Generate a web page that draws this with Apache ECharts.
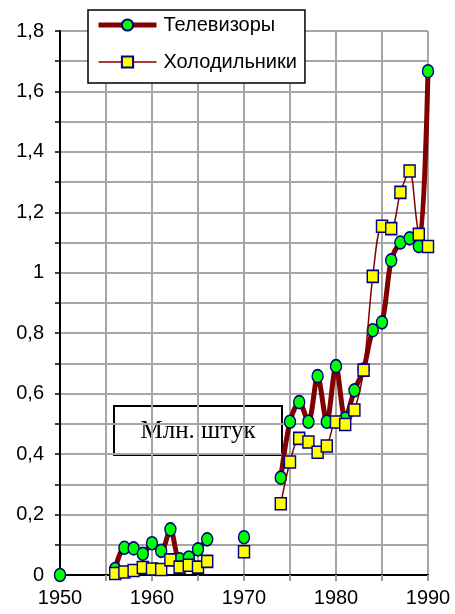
<!DOCTYPE html>
<html>
<head>
<meta charset="utf-8">
<script src="https://cdn.jsdelivr.net/npm/echarts@6/dist/echarts.min.js"></script>
<style>
  html, body { margin: 0; padding: 0; background: #fff; }
  #chart { width: 455px; height: 614px; }
</style>
</head>
<body>
<div id="chart"></div>
<script>
// годы и значения (млн. штук), null = нет данных
let years = [1950, 1956, 1957, 1958, 1959, 1960, 1961, 1962, 1963, 1964, 1965, 1966, 1970,
  1974, 1975, 1976, 1977, 1978, 1979, 1980, 1981, 1982, 1983, 1984, 1985, 1986, 1987, 1988, 1989, 1990];
let tv = [0, 0.02, 0.09, 0.088, 0.07, 0.105, 0.08, 0.151, 0.052, 0.058, 0.085, 0.118, 0.125,
  0.322, 0.507, 0.572, 0.507, 0.658, 0.507, 0.691, 0.518, 0.611, 0.68, 0.81, 0.836, 1.041, 1.1, 1.114, 1.088, 1.667];
let fridge = [null, 0.005, 0.01, 0.015, 0.025, 0.02, 0.018, 0.05, 0.026, 0.032, 0.026, 0.045, 0.077,
  0.236, 0.374, 0.452, 0.44, 0.406, 0.427, 0.506, 0.498, 0.546, 0.678, 0.988, 1.154, 1.146, 1.266, 1.337, 1.127, 1.087];
let seriesNames = ['Телевизоры', 'Холодильники'];

// разрыв линии там, где годы идут не подряд
function toPoints(vals) {
  let out = [];
  let prev = null;
  years.forEach((y, i) => {
    if (vals[i] == null) return;
    if (prev !== null && y - prev > 1) out.push([prev + 0.5, '-']);
    out.push([y, vals[i]]);
    prev = y;
  });
  return out;
}

let font = 'Liberation Sans, Arial';
let myChart = echarts.init(document.getElementById('chart'));
let option = {
  animation: false,
  grid: { left: 60, right: 27, top: 31, bottom: 39 },
  legend: {
    orient: 'vertical',
    left: 88,
    top: 10,
    padding: [5, 8, 11, 8],
    itemGap: 17,
    itemWidth: 58,
    itemHeight: 14,
    backgroundColor: '#fff',
    borderColor: '#000',
    borderWidth: 1.5,
    borderRadius: 0,
    textStyle: { fontFamily: font, fontSize: 20, color: '#000', padding: [0, 0, 0, 2] },
    data: [
      { name: seriesNames[0], lineStyle: { width: 5, color: '#800000' } },
      { name: seriesNames[1], lineStyle: { width: 1.5, color: '#800000' } }
    ]
  },
  xAxis: {
    type: 'value',
    min: 1950,
    max: 1990,
    interval: 5,
    axisLine: { lineStyle: { color: '#000', width: 2 } },
    axisTick: { show: true, length: 6, lineStyle: { color: '#999', width: 2 } },
    splitLine: { lineStyle: { color: '#a6a6a6', width: 2 } },
    axisLabel: {
      fontFamily: font,
      fontSize: 20,
      color: '#000',
      margin: 13,
      formatter: v => (v % 10 === 0 ? String(v) : '')
    }
  },
  yAxis: {
    type: 'value',
    min: 0,
    max: 1.8,
    interval: 0.1,
    axisLine: { show: true, lineStyle: { color: '#000', width: 2 } },
    axisTick: { show: true, length: 5, lineStyle: { color: '#000', width: 1.5 } },
    splitLine: { lineStyle: { color: '#a6a6a6', width: 2 } },
    axisLabel: {
      fontFamily: font,
      fontSize: 20,
      color: '#000',
      margin: 16,
      formatter: v => {
        let k = Math.round(v * 10);
        if (k % 2 !== 0) return '';
        return String(+(k / 10).toFixed(1)).replace('.', ',');
      }
    }
  },
  graphic: [
    {
      type: 'group',
      left: 113,
      top: 405,
      children: [
        {
          type: 'rect',
          shape: { x: 0, y: 0, width: 168, height: 49 },
          style: { fill: '#fff', stroke: '#000', lineWidth: 2 }
        },
        {
          type: 'text',
          x: 84,
          y: 25,
          style: {
            text: 'Млн. штук',
            fontFamily: 'Liberation Serif, Times New Roman',
            fontSize: 25,
            fill: '#000',
            align: 'center',
            verticalAlign: 'middle'
          }
        }
      ]
    }
  ],
  series: [
    {
      name: seriesNames[0],
      type: 'line',
      smooth: 0.3,
      data: toPoints(tv),
      symbol: 'circle',
      symbolSize: [11, 13],
      lineStyle: { color: '#800000', width: 5 },
      itemStyle: { color: '#00ff00', borderColor: '#000080', borderWidth: 1.5 },
      z: 2
    },
    {
      name: seriesNames[1],
      type: 'line',
      smooth: 0.3,
      data: toPoints(fridge),
      symbol: 'rect',
      symbolSize: [11, 12],
      lineStyle: { color: '#800000', width: 1.5 },
      itemStyle: { color: '#ffff00', borderColor: '#000080', borderWidth: 1.5 },
      z: 3
    }
  ]
};
myChart.setOption(option);
</script>
</body>
</html>
